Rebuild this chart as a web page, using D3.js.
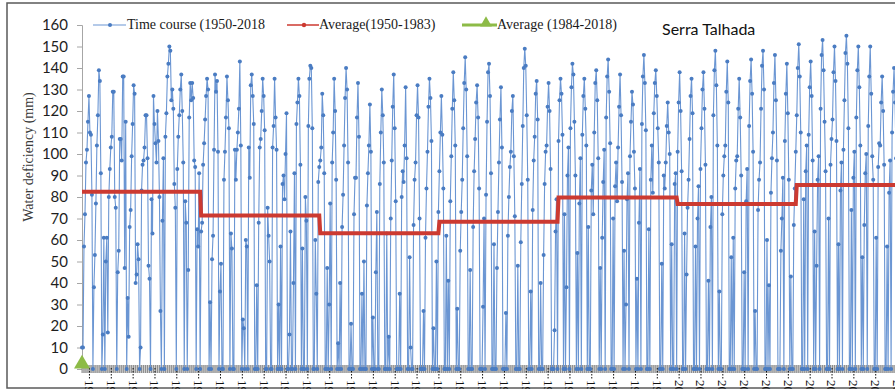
<!DOCTYPE html>
<html>
<head>
<meta charset="utf-8">
<script src="https://cdn.jsdelivr.net/npm/d3@7"></script>
<style>
  html, body { margin: 0; padding: 0; background: #fff; overflow: hidden; }
  svg { display: block; }
</style>
</head>
<body>
<svg id="chart" width="895" height="389"></svg>
<script>
// ---------- DATA (monthly water deficiency, mm) ----------
const deficit1950s = [
  [10, 10, 57, 72, 96, 102, 115, 127, 110, 109, 81, 0],
  [38, 53, 77, 104, 118, 139, 134, 91, 0, 16, 61, 0],
  [50, 61, 17, 80, 93, 103, 108, 129, 129, 80, 75, 0],
  [45, 55, 107, 107, 97, 136, 136, 47, 115, 0, 33, 15],
  [66, 74, 99, 114, 132, 128, 40, 44, 58, 51, 0, 10],
  [83, 95, 97, 103, 118, 118, 98, 48, 42, 0, 79, 63],
  [127, 114, 105, 96, 120, 106, 80, 27, 0, 69, 98, 0],
  [108, 119, 136, 142, 150, 148, 125, 130, 121, 86, 75, 0],
  [93, 108, 118, 130, 137, 120, 96, 0, 78, 68, 0, 46],
  [117, 133, 125, 133, 126, 97, 94, 0, 65, 57, 91, 0]
];
const deficit1960s = [
  [64, 68, 95, 105, 116, 127, 135, 130, 0, 31, 0, 51],
  [62, 102, 137, 129, 134, 101, 0, 36, 49, 0, 0, 88],
  [101, 117, 136, 125, 112, 0, 63, 56, 0, 0, 102, 88],
  [102, 110, 121, 143, 104, 0, 23, 19, 0, 60, 57, 0],
  [103, 89, 132, 137, 127, 114, 0, 0, 39, 0, 68, 103],
  [107, 120, 135, 127, 111, 0, 0, 75, 62, 50, 0, 0],
  [103, 113, 135, 117, 102, 0, 30, 0, 57, 0, 86, 90],
  [79, 100, 119, 0, 0, 16, 64, 0, 0, 40, 91, 0],
  [114, 124, 135, 127, 95, 0, 56, 0, 0, 80, 69, 0],
  [113, 135, 141, 140, 112, 0, 0, 60, 35, 0, 87, 94]
];
const deficit1970s = [
  [97, 103, 128, 118, 91, 0, 0, 47, 0, 30, 77, 0],
  [96, 110, 135, 120, 88, 0, 12, 0, 40, 0, 66, 81],
  [104, 126, 140, 130, 96, 0, 0, 21, 0, 0, 72, 89],
  [89, 117, 133, 108, 0, 0, 35, 0, 50, 0, 0, 76],
  [91, 104, 123, 101, 0, 24, 0, 0, 45, 73, 0, 0],
  [86, 110, 130, 118, 96, 0, 0, 63, 0, 15, 0, 70],
  [97, 122, 137, 112, 78, 0, 0, 0, 35, 0, 80, 92],
  [87, 104, 131, 98, 0, 0, 52, 10, 0, 0, 67, 88],
  [96, 118, 132, 117, 70, 0, 0, 0, 27, 0, 61, 84],
  [101, 122, 135, 126, 106, 0, 19, 0, 0, 50, 0, 73]
];
const deficit1980s = [
  [92, 110, 127, 109, 84, 0, 0, 62, 0, 41, 0, 78],
  [99, 121, 138, 125, 104, 0, 28, 0, 0, 55, 73, 88],
  [112, 133, 145, 130, 99, 0, 0, 46, 0, 0, 66, 92],
  [107, 124, 132, 117, 84, 0, 0, 0, 29, 70, 0, 81],
  [115, 138, 142, 127, 91, 0, 0, 58, 0, 0, 47, 73],
  [96, 116, 131, 103, 0, 0, 0, 26, 0, 62, 80, 94],
  [101, 120, 127, 99, 71, 0, 0, 48, 0, 0, 59, 86],
  [113, 140, 149, 141, 118, 88, 0, 0, 36, 0, 74, 97],
  [108, 128, 134, 116, 0, 0, 40, 0, 0, 53, 86, 101],
  [104, 122, 133, 120, 93, 0, 0, 0, 18, 64, 79, 0]
];
const deficit1990s = [
  [106, 125, 135, 128, 109, 0, 72, 0, 38, 90, 103, 0],
  [112, 131, 142, 137, 115, 90, 0, 54, 0, 77, 98, 0],
  [109, 127, 135, 121, 104, 0, 66, 0, 0, 83, 95, 72],
  [110, 133, 139, 125, 98, 0, 47, 0, 61, 87, 102, 0],
  [117, 136, 144, 129, 105, 0, 0, 70, 0, 85, 96, 78],
  [103, 122, 137, 118, 87, 0, 55, 0, 30, 79, 91, 0],
  [99, 115, 129, 123, 101, 84, 0, 42, 0, 68, 93, 0],
  [114, 136, 146, 133, 111, 0, 0, 65, 0, 88, 104, 82],
  [119, 133, 139, 127, 112, 96, 0, 0, 49, 0, 90, 84],
  [96, 113, 124, 110, 100, 0, 58, 0, 0, 86, 91, 0]
];
const deficit2000s = [
  [101, 124, 138, 120, 92, 0, 0, 63, 0, 44, 75, 88],
  [107, 127, 135, 119, 0, 0, 57, 0, 70, 85, 0, 93],
  [112, 130, 138, 121, 95, 0, 0, 41, 0, 66, 80, 0],
  [118, 139, 148, 132, 104, 0, 36, 0, 0, 72, 90, 99],
  [104, 129, 143, 124, 0, 0, 52, 0, 61, 0, 84, 97],
  [99, 121, 135, 117, 90, 0, 0, 45, 0, 78, 93, 0],
  [113, 134, 144, 128, 101, 0, 27, 0, 0, 74, 88, 96],
  [121, 141, 148, 130, 0, 0, 60, 0, 39, 0, 82, 98],
  [110, 133, 146, 125, 97, 0, 0, 0, 55, 70, 89, 0],
  [106, 128, 142, 119, 88, 0, 43, 0, 0, 67, 84, 101]
];
const deficit2010s = [
  [118, 140, 151, 136, 110, 0, 0, 79, 0, 92, 104, 0],
  [109, 131, 143, 127, 97, 0, 64, 0, 48, 88, 99, 0],
  [121, 146, 153, 139, 115, 92, 0, 0, 70, 0, 95, 107],
  [116, 138, 150, 134, 106, 0, 58, 0, 83, 96, 0, 102],
  [125, 147, 155, 142, 112, 0, 0, 74, 0, 89, 101, 0],
  [117, 139, 150, 131, 104, 0, 52, 0, 67, 91, 100, 0],
  [113, 136, 150, 128, 99, 88, 0, 0, 61, 0, 94, 105],
  [104, 124, 136, 120, 95, 0, 0, 57, 0, 82, 97, 0],
  [110, 129, 140, 124, 98, 0, 46, 0, 63, 86, 0, 94]
];
// decadal average step line (red)
const decadeAverages = [82.5, 71.4, 63.1, 68.5, 79.8, 76.8, 85.6];
// green series (only its first point is visible)
const greenValues = [0];

const firstYear = 1950;
const lastYear = 2018;
const monthNames = ["Jan","Feb","Mar","Apr","May","Jun","Jul","Aug","Sep","Oct","Nov","Dec"];
const yTicks = [0,10,20,30,40,50,60,70,80,90,100,110,120,130,140,150,160];

const legendLabels = ["Time course (1950-2018", "Average(1950-1983)", "Average (1984-2018)"];
const chartTitle = "Serra Talhada";
const yTitle = "Water deficiency (mm)";

// ---------- BUILD ----------
const timeCourse = [deficit1950s, deficit1960s, deficit1970s, deficit1980s,
                    deficit1990s, deficit2000s, deficit2010s].flat(2);
const categories = [];
for (let y = firstYear; y <= lastYear; y++) for (const m of monthNames) categories.push(y + " " + m);
const averageSeries = timeCourse.map((_, i) => decadeAverages[Math.floor(i / 120)]);

const svg = d3.select("#chart");
const x = d3.scaleLinear().domain([0, categories.length - 1]).range([82, 903]);
const y = d3.scaleLinear().domain([0, 160]).range([369, 25]);

// outer frame
svg.append("rect").attr("x", 7).attr("y", 3).attr("width", 920).attr("height", 385)
  .attr("fill", "none").attr("stroke", "#5a5a5a").attr("stroke-width", 1.5);

// y axis
const yAxis = d3.axisLeft(y).tickValues(yTicks).tickSize(5).tickPadding(9);
const gy = svg.append("g").attr("transform", "translate(82,0)").call(yAxis);
gy.select(".domain").attr("stroke", "#a6a6a6");
gy.selectAll(".tick line").attr("stroke", "#a6a6a6");
gy.selectAll(".tick text").attr("font-family", "Lato, 'Open Sans', sans-serif")
  .attr("font-size", 15).attr("fill", "#1e1e1e");

svg.append("text")
  .attr("transform", "translate(33,157) rotate(-90)")
  .attr("text-anchor", "middle")
  .attr("font-family", "'Liberation Serif', 'DejaVu Serif', serif")
  .attr("font-size", 14).attr("fill", "#3a3a3a")
  .text(yTitle);

// x axis: dense grey band of minor ticks at each category
const band = svg.append("g");
band.append("rect").attr("x", x(0)).attr("y", 365).attr("width", 900).attr("height", 8)
  .attr("fill", "#cfcfcf");
band.selectAll("line.minor").data(categories.filter((_, i) => i % 2 === 0))
  .join("line")
  .attr("x1", (d, i) => x(i * 2)).attr("x2", (d, i) => x(i * 2))
  .attr("y1", 365).attr("y2", 373)
  .attr("stroke", "#8c8c8c").attr("stroke-width", 1);

// major ticks (dotted) + rotated labels every 22 categories
const majorIdx = d3.range(7, categories.length, 22);
const xAxis = d3.axisBottom(x).tickValues(majorIdx).tickSize(11).tickPadding(3)
  .tickFormat(i => categories[i]);
const gx = svg.append("g").attr("transform", "translate(0,368)").call(xAxis);
gx.select(".domain").remove();
gx.selectAll(".tick line").attr("stroke", "#111").attr("stroke-dasharray", "1.5,1.5");
gx.selectAll(".tick text")
  .attr("font-family", "'Liberation Serif', serif").attr("font-size", 13).attr("fill", "#111")
  .attr("text-anchor", "start")
  .attr("transform", "rotate(90)")
  .attr("x", 12).attr("y", 0).attr("dy", "0.35em");

// blue time course
const blueLine = d3.line().x((d, i) => x(i)).y(d => y(d));
svg.append("path").datum(timeCourse).attr("d", blueLine)
  .attr("fill", "none").attr("stroke", "#6b96d3").attr("stroke-width", 1.1)
  .attr("stroke-linejoin", "round");
svg.append("g").selectAll("circle").data(timeCourse).join("circle")
  .attr("cx", (d, i) => x(i)).attr("cy", d => y(d)).attr("r", 2)
  .attr("fill", "#4a7cc2");

// red step averages
svg.append("path").datum(averageSeries).attr("d", blueLine)
  .attr("fill", "none").attr("stroke", "#cc3a31").attr("stroke-width", 4);

// green series marker
svg.append("g").selectAll("path").data(greenValues).join("path")
  .attr("d", d3.symbol(d3.symbolTriangle, 110))
  .attr("transform", (d, i) => `translate(${x(i)},${y(d) - 5})`)
  .attr("fill", "#8dbb47");

// legend
const lg = svg.append("g").attr("font-family", "'Liberation Serif', serif").attr("font-size", 14)
  .attr("fill", "#1a1a1a");
lg.append("line").attr("x1", 93).attr("x2", 126).attr("y1", 25).attr("y2", 25)
  .attr("stroke", "#6b96d3").attr("stroke-width", 1.2);
lg.append("circle").attr("cx", 110).attr("cy", 25).attr("r", 2).attr("fill", "#4a7cc2");
lg.append("text").attr("x", 127).attr("y", 29).text(legendLabels[0]);

lg.append("line").attr("x1", 287).attr("x2", 319).attr("y1", 25).attr("y2", 25)
  .attr("stroke", "#cc3a31").attr("stroke-width", 1.5);
lg.append("circle").attr("cx", 304).attr("cy", 25).attr("r", 2.2).attr("fill", "#cc3a31");
lg.append("text").attr("x", 319).attr("y", 29).text(legendLabels[1]);

lg.append("line").attr("x1", 462).attr("x2", 497).attr("y1", 25).attr("y2", 25)
  .attr("stroke", "#8dbb47").attr("stroke-width", 3);
lg.append("path").attr("d", d3.symbol(d3.symbolTriangle, 60))
  .attr("transform", "translate(486,23)").attr("fill", "#8dbb47");
lg.append("text").attr("x", 497).attr("y", 29).text(legendLabels[2]);

svg.append("text").attr("x", 662).attr("y", 35)
  .attr("font-family", "Lato, 'Open Sans', sans-serif").attr("font-size", 16)
  .attr("fill", "#111").text(chartTitle);
</script>
</body>
</html>
